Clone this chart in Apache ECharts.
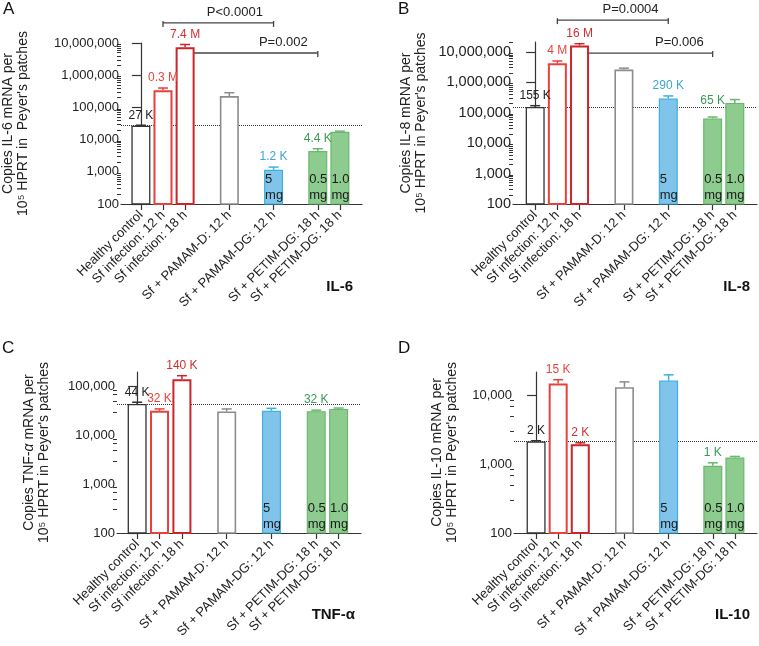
<!DOCTYPE html>
<html><head><meta charset="utf-8">
<script src="https://cdn.jsdelivr.net/npm/echarts@6/dist/echarts.min.js"></script>
<style>html,body{margin:0;padding:0;background:#fff}#c{width:759px;height:646px}</style>
</head><body><div id="c"></div>
<script>
// ---------- data ----------
const categories = ['Healthy control','Sf infection: 12 h','Sf infection: 18 h','Sf + PAMAM-D: 12 h','Sf + PAMAM-DG: 12 h','Sf + PETIM-DG: 18 h','Sf + PETIM-DG: 18 h'];
const slots = [0, 1, 2, 4, 6, 8, 9];
const yTickValues = [100, 1000, 10000, 100000, 1000000, 10000000];
const doseLabels = ['', '', '', '', '5\nmg', '0.5\nmg', '1.0\nmg'];

const il6Mean = [27000, 340000, 7400000, 225000, 1150, 4400, 17500];
const il6Err  = [28000, 400000, 9000000, 285000, 1400, 5200, 18300];
const il6Labels = ['27 K', '0.3 M', '7.4 M', '', '1.2 K', '4.4 K', ''];

const il8Mean = [155000, 4200000, 16000000, 2600000, 290000, 65000, 210000];
const il8Err  = [170000, 5000000, 18500000, 2900000, 355000, 72000, 270000];
const il8Labels = ['155 K', '4 M', '16 M', '', '290 K', '65 K', ''];

const tnfMean = [44000, 32000, 142000, 31000, 32000, 31500, 35000];
const tnfErr  = [48000, 35000, 168000, 35000, 36000, 33000, 36500];
const tnfLabels = ['44 K', '32 K', '140 K', '', '', '32 K', ''];

const il10Mean = [2150, 15000, 1950, 13200, 16500, 950, 1250];
const il10Err  = [2200, 17000, 2050, 15800, 20000, 1050, 1300];
const il10Labels = ['2 K', '15 K', '2 K', '', '', '1 K', ''];

const pBrackets = [
  {panel: 0, from: 1, to: 6, level: 4.2e7, text: 'P<0.0001', frac: 0.65},
  {panel: 0, from: 2, to: 8, level: 4.9e6, text: 'P=0.002', frac: 0.74},
  {panel: 1, from: 1, to: 6, level: 1.1e8, text: 'P=0.0004', frac: 0.66},
  {panel: 1, from: 2, to: 8, level: 9.1e6, text: 'P=0.006', frac: 0.75}
];

// ---------- styles ----------
const FONT = '"Liberation Sans", Arial, Helvetica, sans-serif';
const TXT = '#222';
const barStyles = [
  {color: '#ffffff', borderColor: '#333333', borderWidth: 1.3},
  {color: '#ffffff', borderColor: '#e8413c', borderWidth: 2},
  {color: '#ffffff', borderColor: '#c9252b', borderWidth: 2},
  {color: '#ffffff', borderColor: '#8c8c8c', borderWidth: 1.6},
  {color: '#80c4ec', borderColor: '#3fb0de', borderWidth: 1.2},
  {color: '#8dcb8f', borderColor: '#69b86d', borderWidth: 1.2},
  {color: '#8dcb8f', borderColor: '#69b86d', borderWidth: 1.2}
];
const labelColors = ['#222222', '#e8453c', '#d0302f', '#888888', '#3aa6d6', '#3a9a55', '#3a9a55'];

const panels = [
  {mean: il6Mean, err: il6Err, labels: il6Labels, letter: 'A', gene: 'IL-6',
   grid: {left: 117, top: 43, width: 245, height: 161}, xMin: -0.9, xMax: 10, yMax: 1e7,
   name: "Copies IL-6 mRNA per\n10⁵ HPRT in  Peyer's patches", nameGap: 90, tickFont: 13,
   minor: [2,3,4,5,6,7,8,9], extra: [0,0,0,0,0,0,0],
   letterPos: [3, 1], genePos: [353, 287]},
  {mean: il8Mean, err: il8Err, labels: il8Labels, letter: 'B', gene: 'IL-8',
   grid: {left: 513, top: 42, width: 244, height: 162}, xMin: -1, xMax: 10, yMax: 2.1e7,
   name: "Copies IL-8 mRNA per\n10⁵ HPRT in Peyer's patches", nameGap: 84, tickFont: 14.5,
   minor: [2,3,4,5,6,7,8,9], extra: [0,0,0,0,0,6,0],
   letterPos: [398, 1], genePos: [750, 287]},
  {mean: tnfMean, err: tnfErr, labels: tnfLabels, letter: 'C', gene: 'TNF-α',
   grid: {left: 117, top: 372, width: 244, height: 161}, xMin: -0.9, xMax: 10, yMax: 2e5,
   name: "Copies TNF-{i|α} mRNA per\n10⁵ HPRT in Peyer's patches", nameGap: 65, tickFont: 13,
   minor: [3,5,7,8.5], extra: [0,0,0,0,0,0,0],
   letterPos: [2, 340], genePos: [355, 615]},
  {mean: il10Mean, err: il10Err, labels: il10Labels, letter: 'D', gene: 'IL-10',
   grid: {left: 514, top: 372, width: 243, height: 161}, xMin: -1, xMax: 10, yMax: 2.2e4,
   name: "Copies IL-10 mRNA per\n10⁵ HPRT in Peyer's patches", nameGap: 54, tickFont: 13,
   minor: [3,5,7,8.5], extra: [0,0,0,0,0,0,0],
   letterPos: [398, 340], genePos: [750, 615]}
];

function fmtNum(v) { return Math.round(v).toLocaleString('en-US'); }

const grids = [], xAxes = [], yAxes = [], series = [];
panels.forEach((p, i) => {
  grids.push(Object.assign({}, p.grid));
  xAxes.push({
    type: 'value', gridIndex: i, min: p.xMin, max: p.xMax, position: 'bottom',
    splitLine: {show: false},
    axisLine: {show: true, onZero: false, lineStyle: {color: '#333', width: 1.2}},
    axisTick: {show: true, customValues: slots, length: 6, lineStyle: {color: '#333', width: 1.2}},
    axisLabel: {show: true, customValues: slots, rotate: 45, margin: 9, fontSize: 13, fontFamily: FONT, color: TXT,
      hideOverlap: false, formatter: v => categories[slots.indexOf(Math.round(v))] || ''}
  });
  const minorVals = [];
  for (let d = 100; d < p.yMax; d *= 10) p.minor.forEach(m => { if (d * m < p.yMax) minorVals.push(d * m); });
  const majors = yTickValues.filter(v => v <= p.yMax);
  yAxes.push({
    type: 'log', logBase: 10, gridIndex: i, min: 100, max: p.yMax, position: 'left',
    name: p.name, nameLocation: 'middle', nameGap: p.nameGap, nameRotate: 90, nameMoveOverlap: false,
    nameTextStyle: {fontSize: 14, lineHeight: 15, fontFamily: FONT, color: TXT, align: 'center',
      rich: {i: {fontStyle: 'italic', fontSize: 14, fontFamily: FONT, color: TXT}}},
    splitLine: {show: false},
    axisLine: {show: true, lineStyle: {color: '#333', width: 1.2}},
    axisTick: {show: true, customValues: majors, length: 9, lineStyle: {color: '#333', width: 1.2}},
    axisLabel: {show: true, customValues: majors, margin: 2, fontSize: p.tickFont, fontFamily: FONT, color: TXT,
      formatter: v => fmtNum(v)}
  });
  yAxes.push({
    type: 'log', logBase: 10, gridIndex: i, min: 100, max: p.yMax, position: 'left',
    splitLine: {show: false}, axisLine: {show: false}, axisLabel: {show: false},
    axisTick: {show: true, customValues: minorVals, length: 4, lineStyle: {color: '#333', width: 1}}
  });
  series.push({
    type: 'bar', xAxisIndex: i, yAxisIndex: 2 * i, barWidth: 19, clip: true,
    data: slots.map((s, k) => ({
      value: [s, p.mean[k]],
      itemStyle: barStyles[k],
      label: {show: !!doseLabels[k], formatter: doseLabels[k], position: 'insideBottomLeft', distance: 1,
        fontSize: 13, lineHeight: 16, fontFamily: FONT, color: '#1a1a1a', align: 'left'}
    })),
    markLine: {
      silent: true, symbol: 'none', z: 1, label: {show: false},
      lineStyle: {type: 'dotted', color: '#333', width: 1},
      data: [{yAxis: p.mean[0]}]
    }
  });
  series.push({
    type: 'custom', xAxisIndex: i, yAxisIndex: 2 * i, z: 3,
    data: slots.map((s, k) => [s, p.mean[k], p.err[k], k]),
    renderItem: function (params, api) {
      const k = api.value(3);
      const p0 = api.coord([api.value(0), api.value(1)]);
      const p1 = api.coord([api.value(0), api.value(2)]);
      const col = barStyles[k].borderColor;
      const children = [
        {type: 'line', shape: {x1: p0[0], y1: p0[1], x2: p1[0], y2: p1[1]}, style: {stroke: col, lineWidth: 1.5}},
        {type: 'line', shape: {x1: p1[0] - 5, y1: p1[1], x2: p1[0] + 5, y2: p1[1]}, style: {stroke: col, lineWidth: 1.5}}
      ];
      if (p.labels[k]) {
        children.push({type: 'text', style: {text: p.labels[k], x: p1[0], y: p1[1] - 10 - p.extra[k],
          align: 'center', verticalAlign: 'middle', fill: labelColors[k], fontSize: 12, fontFamily: FONT}});
      }
      return {type: 'group', children: children};
    }
  });
});

const chart = echarts.init(document.getElementById('c'), null, {renderer: 'canvas'});
chart.setOption({
  animation: false,
  backgroundColor: '#ffffff',
  grid: grids, xAxis: xAxes, yAxis: yAxes, series: series
});

const graphics = [];
panels.forEach((p, i) => {
  graphics.push({type: 'text', left: p.letterPos[0], top: p.letterPos[1],
    style: {text: p.letter, fontSize: 17, fontFamily: FONT, fill: '#111'}});
  graphics.push({type: 'text', x: p.genePos[0], y: p.genePos[1],
    style: {text: p.gene, fontSize: 15, fontWeight: 'bold', fontFamily: FONT, fill: '#111', align: 'right', verticalAlign: 'middle'}});
});
pBrackets.forEach(b => {
  const a = chart.convertToPixel({seriesIndex: 2 * b.panel}, [b.from, b.level]);
  const c = chart.convertToPixel({seriesIndex: 2 * b.panel}, [b.to, b.level]);
  const st = {stroke: '#444', lineWidth: 1.3};
  graphics.push({type: 'line', shape: {x1: a[0], y1: a[1], x2: c[0], y2: c[1]}, style: st});
  graphics.push({type: 'line', shape: {x1: a[0], y1: a[1] - 2, x2: a[0], y2: a[1] + 4}, style: st});
  graphics.push({type: 'line', shape: {x1: c[0], y1: c[1] - 2, x2: c[0], y2: c[1] + 4}, style: st});
  graphics.push({type: 'text', x: a[0] + b.frac * (c[0] - a[0]), y: a[1] - 11,
    style: {text: b.text, fontSize: 13, fontFamily: FONT, fill: '#222', align: 'center', verticalAlign: 'middle'}});
});
chart.setOption({graphic: graphics});
</script>
</body></html>
